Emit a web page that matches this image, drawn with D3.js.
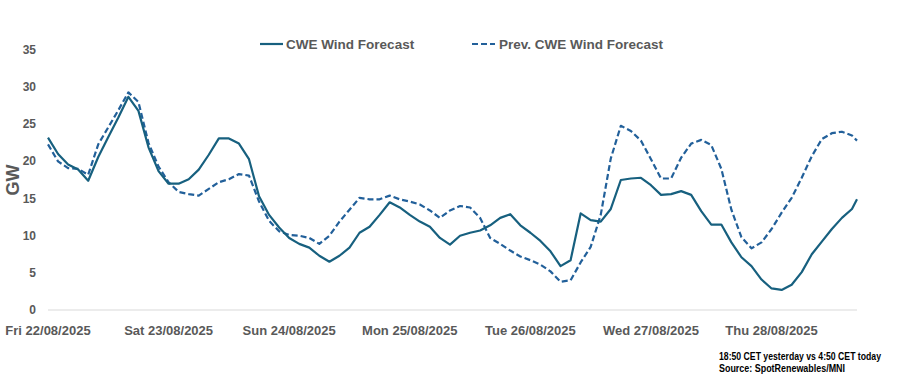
<!DOCTYPE html>
<html>
<head>
<meta charset="utf-8">
<script src="https://cdn.jsdelivr.net/npm/d3@7"></script>
<style>
body{margin:0;background:#fff;}
text{font-family:"Liberation Sans",Arial,sans-serif;font-weight:bold;fill:#595959;}
</style>
</head>
<body>
<svg width="906" height="382"></svg>
<script>
// hours since Fri 22/08/2025 00:00, read every 2h off the chart
var hours = d3.range(0, 161, 2).concat([161]);

var cweWind = [23.2,21.0,19.6,18.9,17.4,20.6,23.3,25.9,28.7,26.8,
  21.9,18.7,17.0,17.0,17.6,18.9,20.9,23.1,23.1,22.4,
  20.3,15.3,12.8,11.1,9.7,8.9,8.4,7.3,6.5,7.3,
  8.4,10.4,11.2,12.8,14.5,13.8,12.8,11.9,11.2,9.7,
  8.8,10.0,10.4,10.7,11.4,12.4,12.9,11.4,10.4,9.3,
  7.9,5.9,6.7,13.0,12.1,11.9,13.6,17.5,17.7,17.8,
  16.8,15.5,15.6,16.0,15.5,13.3,11.5,11.5,9.1,7.1,
  5.9,4.1,2.9,2.7,3.4,5.1,7.5,9.2,10.9,12.4,
  13.6,14.9];

var prevCweWind = [22.3,20.0,19.1,19.0,18.2,22.3,24.6,26.9,29.3,28.0,
  22.5,19.3,17.2,15.9,15.6,15.4,16.3,17.2,17.6,18.3,
  18.1,14.6,12.0,10.6,10.1,10.0,9.7,8.9,10.0,11.9,
  13.5,15.1,14.9,14.9,15.4,14.9,14.6,14.2,13.4,12.4,
  13.4,14.0,13.8,12.4,9.7,8.9,8.0,7.2,6.7,6.1,
  5.2,3.8,4.0,6.4,8.5,12.8,20.4,24.8,24.1,22.8,
  20.3,17.7,17.7,20.5,22.4,22.9,22.2,19.0,13.5,9.8,
  8.3,9.1,10.9,13.1,15.1,17.8,20.7,23.0,23.8,24.0,
  23.5,22.8];

var dayLabels = ["Fri 22/08/2025","Sat 23/08/2025","Sun 24/08/2025","Mon 25/08/2025",
  "Tue 26/08/2025","Wed 27/08/2025","Thu 28/08/2025"];
var yTicks = [0,5,10,15,20,25,30,35];

var start = new Date(2025, 7, 22);
function hourDate(h){ return new Date(start.getTime() + h * 3600000); }

var svg = d3.select("svg");
var x = d3.scaleTime().domain([start, hourDate(161)]).range([48, 857]);
var y = d3.scaleLinear().domain([0, 35]).range([310, 50]);

// y labels
svg.selectAll(".ytick").data(yTicks).enter().append("text")
  .attr("x", 36).attr("y", function(d){ return y(d) + 4; })
  .attr("text-anchor", "end").style("font-size", "12px")
  .text(function(d){ return d; });

svg.append("text")
  .attr("transform", "translate(19,180) rotate(-90)")
  .attr("text-anchor", "middle").style("font-size", "18px")
  .text("GW");

// x axis line
svg.append("line").attr("x1", 48).attr("x2", 857).attr("y1", y(0)).attr("y2", y(0))
  .attr("stroke", "#d9d9d9").attr("stroke-width", 1);

svg.selectAll(".xtick").data(dayLabels).enter().append("text")
  .attr("x", function(d, i){ return x(hourDate(i * 24)); })
  .attr("y", 335).attr("text-anchor", "middle").style("font-size", "13px")
  .text(function(d){ return d; });

function drawLine(vals, color, dash){
  var line = d3.line()
    .x(function(d, i){ return x(hourDate(hours[i])); })
    .y(function(d){ return y(d); });
  var p = svg.append("path").attr("d", line(vals))
    .attr("fill", "none").attr("stroke", color).attr("stroke-width", 2.2)
    .attr("stroke-linejoin", "round");
  if(dash) p.attr("stroke-dasharray", "6,3");
}
drawLine(prevCweWind, "#22609a", true);
drawLine(cweWind, "#17607f", false);

// legend
svg.append("line").attr("x1", 260).attr("x2", 283).attr("y1", 44).attr("y2", 44)
  .attr("stroke", "#17607f").attr("stroke-width", 2.2);
svg.append("text").attr("x", 286).attr("y", 49).style("font-size", "13.5px").text("CWE Wind Forecast");
svg.append("line").attr("x1", 472).attr("x2", 495).attr("y1", 44).attr("y2", 44)
  .attr("stroke", "#22609a").attr("stroke-width", 2.2).attr("stroke-dasharray", "6,3");
svg.append("text").attr("x", 499).attr("y", 49).style("font-size", "13.5px").text("Prev. CWE Wind Forecast");

// source note
svg.append("text").attr("x", 719).attr("y", 360).style("font-size", "10px").style("fill", "#000")
  .attr("textLength", 162).attr("lengthAdjust", "spacingAndGlyphs")
  .text("18:50 CET yesterday vs  4:50 CET today");
svg.append("text").attr("x", 719).attr("y", 372).style("font-size", "10px").style("fill", "#000")
  .attr("textLength", 126).attr("lengthAdjust", "spacingAndGlyphs")
  .text("Source: SpotRenewables/MNI");
</script>
</body>
</html>
